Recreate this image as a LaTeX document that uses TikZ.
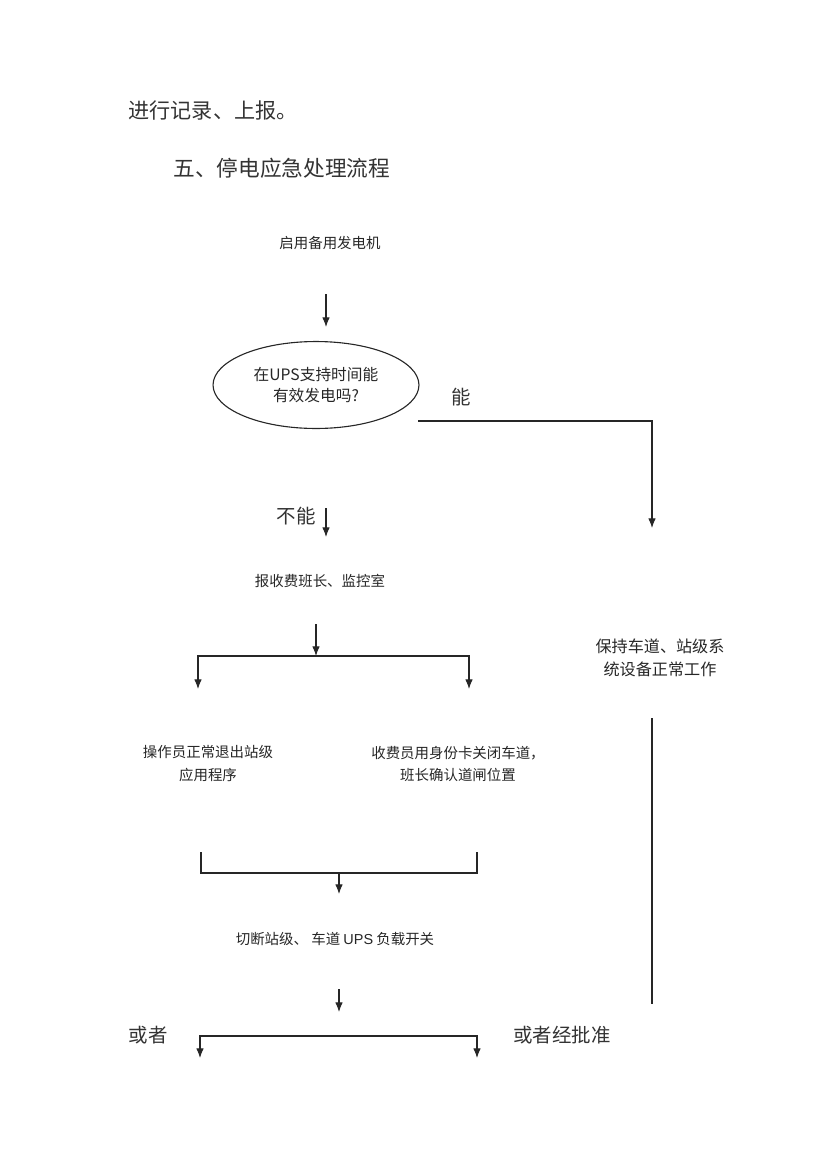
\documentclass[tikz,border=0pt]{standalone}
\usepackage{fontspec}
\setmainfont{Noto Sans CJK SC}
\newfontfamily\upsfont{Liberation Sans}
\usetikzlibrary{shapes.geometric,arrows.meta}
\tikzset{
    bodytext/.style={anchor=west,inner sep=0pt,text=black!80,font=\fontsize{15.2}{18}\selectfont},
    flowtext/.style={align=center,text=black!85,font=\fontsize{10.4}{16.5}\selectfont},
    bigtext/.style={text=black!80,font=\fontsize{14}{16}\selectfont},
}

\begin{document}
\begin{tikzpicture}[x=0.0253cm,y=-0.0253cm,>={Latex[length=7pt,width=5.5pt]},->,thick,black!85]
        \useasboundingbox (0,0) rectangle (830,1174);
        \node [bodytext] (rec) at (128,110) {进行记录、上报。};
        \node [bodytext,font=\fontsize{15.6}{18}\selectfont] (title) at (173,168) {五、停电应急处理流程};
        \node [flowtext] (gen) at (330,243) {启用备用发电机};
        \node [draw,ellipse,minimum width=5.21cm,minimum height=2.2cm,inner sep=0pt,
               flowtext,font=\fontsize{11.3}{15}\selectfont] (ask) at (316,385) {在UPS支持时间能\\有效发电吗?};
        \node [bigtext] (yes) at (461,397) {能};
        \node [bigtext] (no) at (296,516) {不能};
        \node [flowtext] (report) at (320,581) {报收费班长、监控室};
        \node [flowtext] (quit) at (208,764) {操作员正常退出站级\\应用程序};
        \node [flowtext] (close) at (458,764) {收费员用身份卡关闭车道，\\班长确认道闸位置};
        \node [flowtext,font=\fontsize{11.6}{16.5}\selectfont] (keep) at (660,658) {保持车道、站级系\\统设备正常工作};
        \node [flowtext] (cut) at (335,939) {切断站级、 车道 {\upsfont UPS} 负载开关};
        \node [bigtext] (or) at (148,1035) {或者};
        \node [bigtext] (orok) at (562,1035) {或者经批准};
        % arrow ends
        \coordinate (g1) at (326,294);  \coordinate (g2) at (326,327);
        \coordinate (y1) at (418,421);  \coordinate (y2) at (652,528);
        \coordinate (n1) at (326,508);  \coordinate (n2) at (326,537);
        \coordinate (r1) at (316,624);  \coordinate (r2) at (316,656);
        \coordinate (sl) at (198,689);  \coordinate (sr) at (469,689);
        \coordinate (bl) at (201,852);  \coordinate (br) at (477,852);
        \coordinate (bm) at (339,873);  \coordinate (b2) at (339,894);
        \coordinate (v1) at (652,718);  \coordinate (v2) at (652,1004);
        \coordinate (c1) at (339,989);  \coordinate (c2) at (339,1012);
        \coordinate (dl) at (200,1058); \coordinate (dr) at (477,1058);
        \coordinate (dm) at (339,1036);
        \draw (g1) -- (g2);
        \draw (y1) -| (y2);
        \draw (n1) -- (n2);
        \draw (r1) -- (r2);
        \draw [<->] (sl) |- (r2) -| (sr);
        \draw [-] (bl) |- (bm) -| (br);
        \draw (bm) -- (b2);
        \draw [-] (v1) -- (v2);
        \draw (c1) -- (c2);
        \draw [<->] (dl) |- (dm) -| (dr);
    \end{tikzpicture}
\end{document}
